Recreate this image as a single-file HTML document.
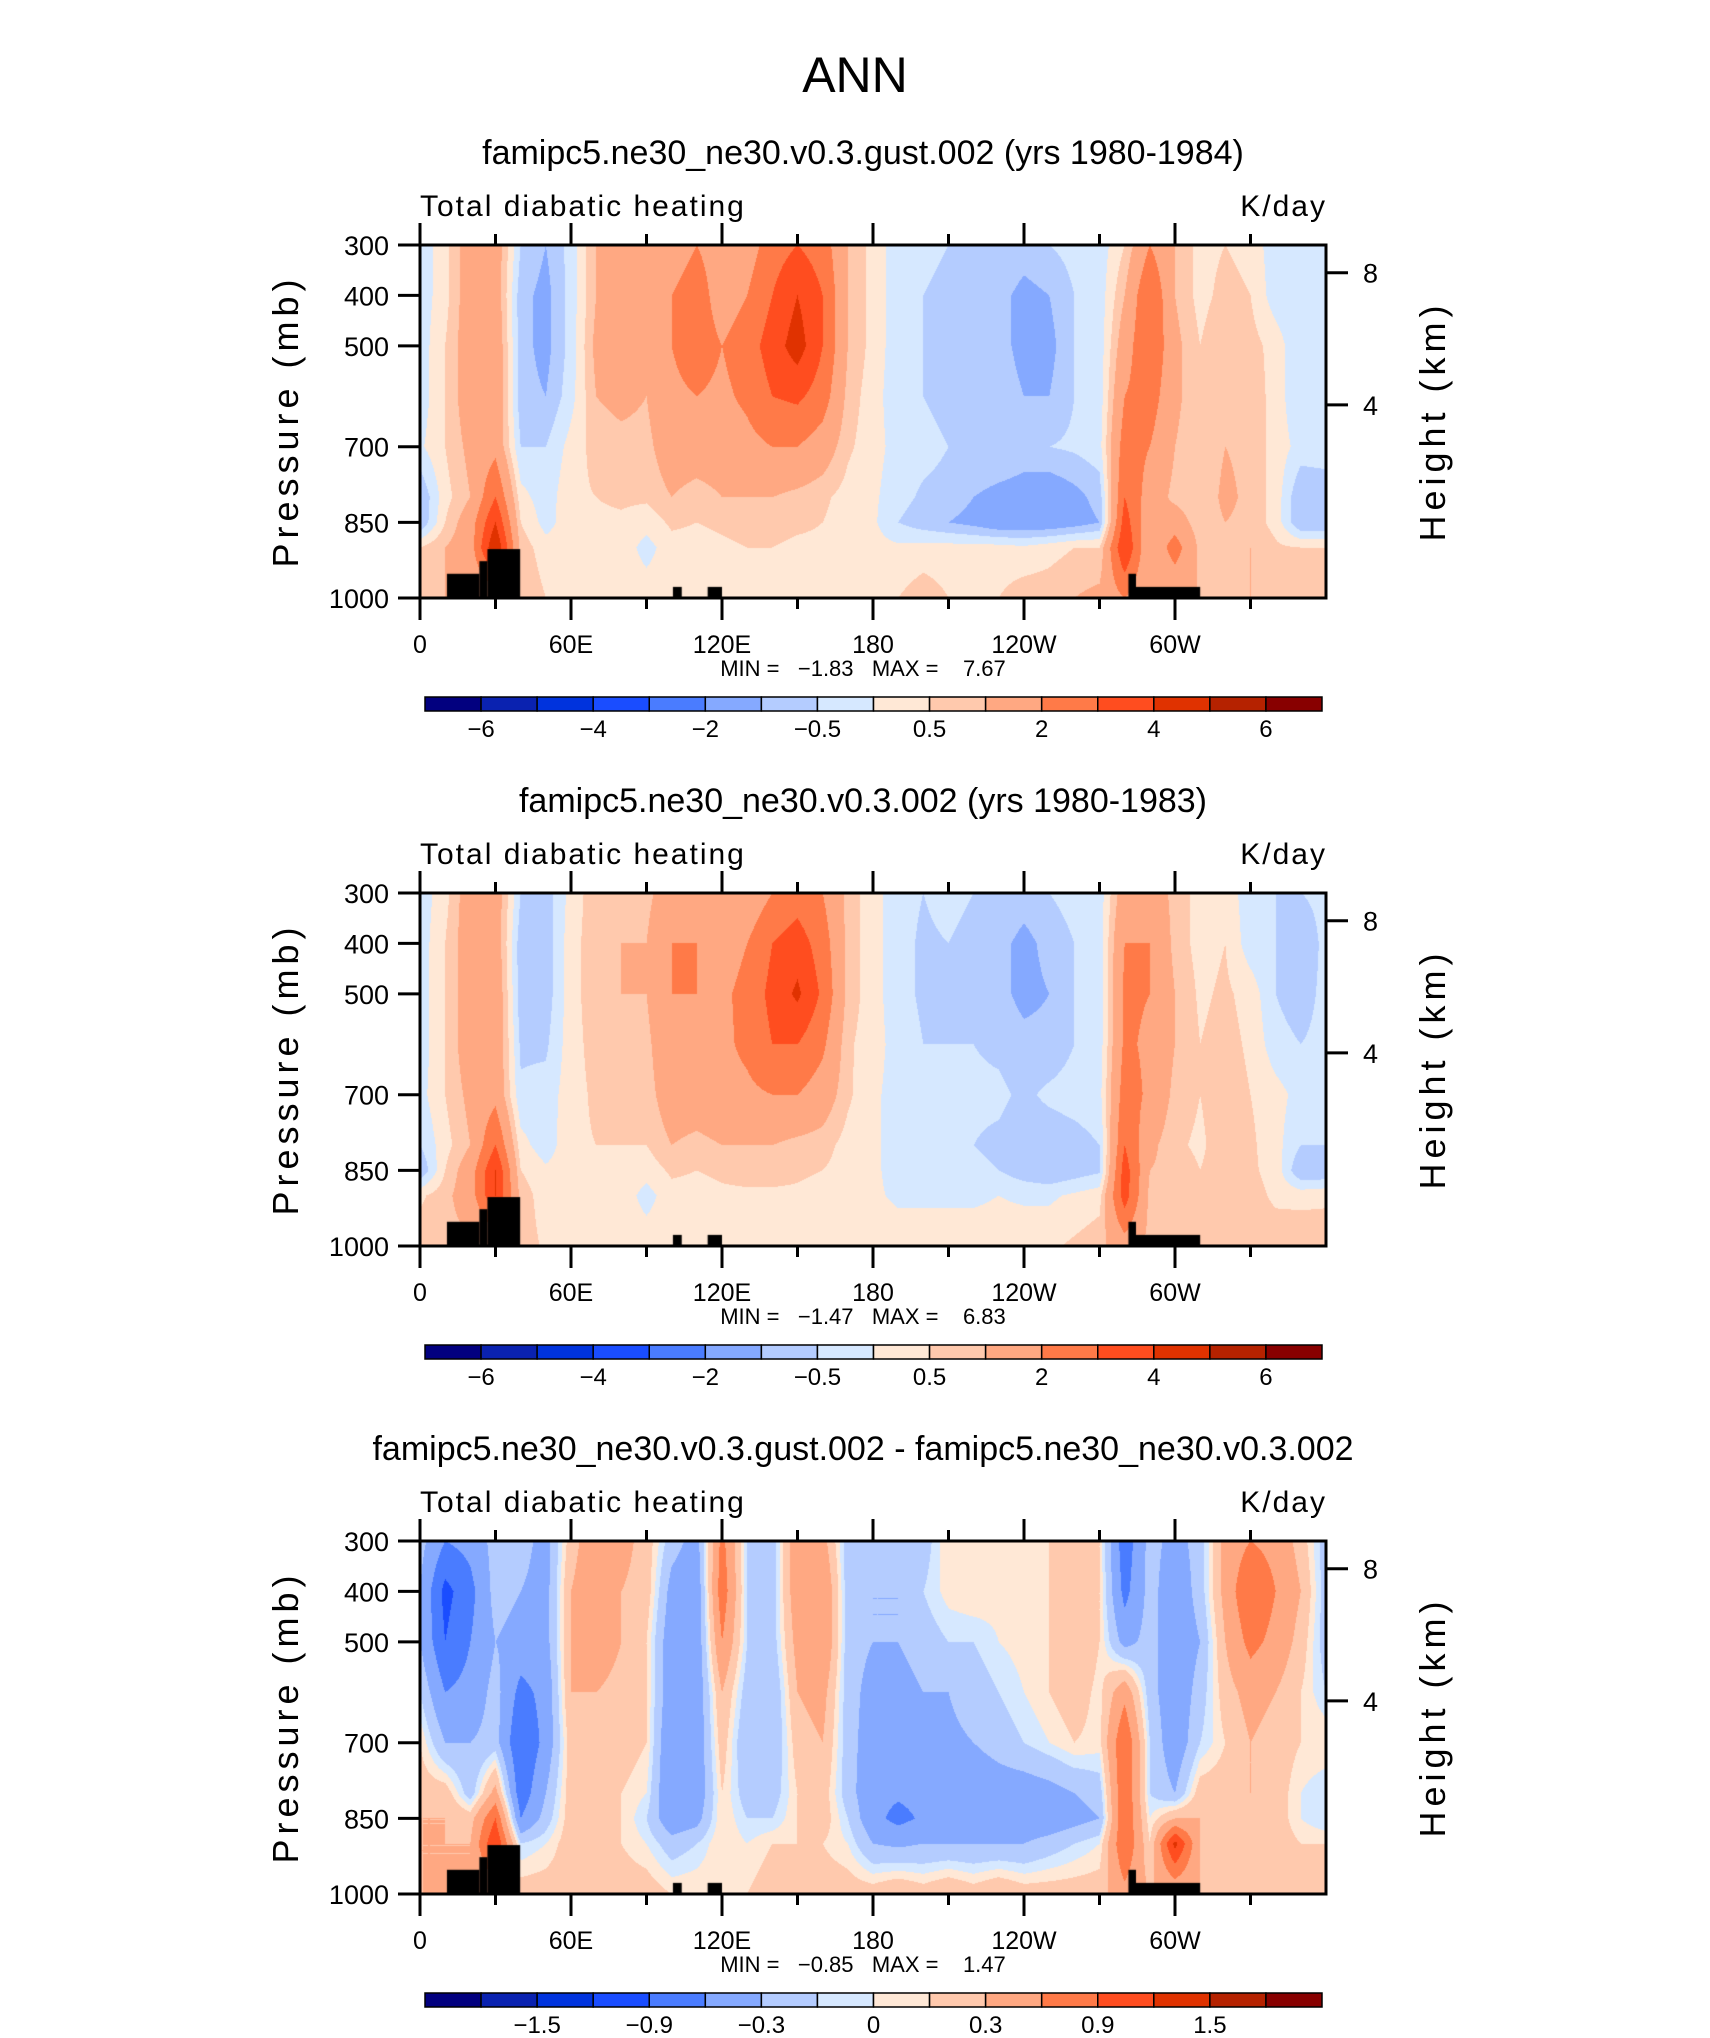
<!DOCTYPE html>
<html><head><meta charset="utf-8">
<style>
html,body{margin:0;padding:0;background:#fff;}
body{position:relative;width:1710px;height:2038px;overflow:hidden;font-family:"Liberation Sans",sans-serif;}
canvas{position:absolute;}
svg{position:absolute;left:0;top:0;}
</style></head>
<body>
<canvas id="c0" width="906" height="353" style="left:420px;top:245px"></canvas>
<canvas id="c1" width="906" height="353" style="left:420px;top:893px"></canvas>
<canvas id="c2" width="906" height="353" style="left:420px;top:1541px"></canvas>
<svg id="ov" width="1710" height="2038" xmlns="http://www.w3.org/2000/svg"></svg>
<script>
const lons = [0,10,20,30,40,50,60,70,80,90,100,110,120,130,140,150,160,170,180,190,200,210,220,230,240,250,260,270,280,290,300,310,320,330,340,350,360];
const levels = [300,400,500,600,700,800,850,900,1000];
const field1 = [
[-0.3,0.3,1.5,1.5,-0.5,-1,-0.3,1.0,1.0,1.0,1.5,2,1.5,1.5,2.5,3,2.5,1.0,0.3,-0.3,-0.3,-0.5,-0.7,-0.5,-0.7,-0.5,-0.3,-0.3,0.5,2,1,0.3,0.5,0.3,-0.3,-0.3,-0.3],
[-0.3,0.3,1.5,1.5,-0.8,-1.2,-0.3,1.0,1.5,1.2,2,2.5,1.5,2,3,4,3,1,0.3,-0.3,-0.5,-0.7,-0.8,-0.8,-1.2,-1,-0.5,-0.3,1,3,1,0.3,0.7,0.5,-0.3,-0.5,-0.3],
[-0.3,0.5,1.5,1.7,-0.8,-1.2,-0.3,1.2,1.5,1.2,2,2.5,2,2.5,3.5,4.5,3,1,0.3,-0.3,-0.5,-0.8,-0.8,-0.8,-1.2,-1.2,-0.5,-0.3,1.5,3,1.2,0.5,1,0.7,0.3,-0.5,-0.3],
[-0.3,0.5,1.5,1.7,-0.8,-1,-0.2,1.0,1.2,1,1.8,2,1.8,2.2,3,3.2,2.5,0.8,0.2,-0.3,-0.5,-0.7,-0.7,-0.7,-1,-1,-0.5,-0.3,2,2.5,1.2,0.5,1,0.8,0.3,-0.5,-0.3],
[-0.1,0.5,1.2,1.7,-0.5,-0.5,0.2,0.7,0.8,0.8,1.5,1.5,1.5,1.7,2,2,1.5,0.6,0.2,-0.2,-0.3,-0.5,-0.5,-0.5,-0.7,-0.5,-0.4,-0.2,2.5,2,1,0.5,1,0.8,0.3,-0.2,-0.1],
[-1,0.3,1,3,0.2,-0.3,0.4,0.5,0.6,0.6,1,0.7,1,1,1,0.8,0.6,0.3,0.1,-0.3,-0.6,-0.7,-1,-1.2,-1.3,-1.5,-1.2,-0.8,3,1.5,0.8,0.5,1.2,0.8,0.3,-1,-1],
[-1,0.5,1.5,4,0.5,-0.2,0.3,0.4,0.4,0.2,0.6,0.5,0.6,0.7,0.7,0.6,0.5,0.3,0.1,-0.5,-0.8,-1,-1.2,-1.5,-1.5,-1.5,-1.3,-1,3.5,1.2,1.5,0.6,1,0.8,0.3,-1,-1],
[0.5,1,1.5,5,0.8,0.2,0.3,0.4,0.3,-0.2,0.3,0.3,0.4,0.5,0.5,0.4,0.4,0.3,0.2,0.1,0.2,0.2,0.2,0.2,0.1,0.3,0.5,0.5,4,1,2.5,0.8,1,1,0.6,0.5,0.5],
[1,1,1,1,1,0.5,0.3,0.3,0.3,0.3,0.3,0.3,0.3,0.3,0.3,0.3,0.3,0.3,0.3,0.5,0.8,0.5,0.5,0.5,0.8,0.8,1,1.2,2,1,1,1,0.8,1,1,1,1]
];
const field2 = [
[-0.3,0.3,1.5,1.5,-0.5,-0.8,0.2,0.8,0.8,0.8,1.5,1.5,1.2,1.2,2,2.5,2,0.8,0.2,-0.3,-0.5,-0.3,-0.5,-0.5,-0.7,-0.5,-0.3,-0.3,1.5,1.5,0.8,0.3,0.3,-0.3,-0.5,-0.5,-0.3],
[-0.3,0.5,1.5,1.5,-0.8,-0.8,0.3,0.8,1,1,2,2,1.5,2,3,3.5,2.5,0.8,0.2,-0.3,-0.6,-0.5,-0.7,-0.8,-1.2,-0.8,-0.5,-0.3,2,2,0.8,0.3,0.5,-0.3,-0.5,-1,-0.3],
[-0.3,0.5,1.5,1.7,-0.8,-0.8,0.3,0.8,1,1,2,2,1.8,2.3,3.3,4.2,2.8,0.8,0.2,-0.3,-0.6,-0.6,-0.7,-0.8,-1.2,-1,-0.5,-0.3,2.2,2,1,0.4,0.6,0.3,-0.5,-0.8,-0.3],
[-0.3,0.5,1.5,1.7,-0.6,-0.6,0.3,0.7,0.8,0.8,1.8,1.8,1.8,2.2,3,3,2.2,0.6,0.2,-0.2,-0.5,-0.5,-0.5,-0.6,-0.8,-0.8,-0.5,-0.3,2.2,1.8,1,0.5,0.7,0.4,-0.3,-0.5,-0.3],
[-0.2,0.5,1.2,1.7,-0.4,-0.3,0.3,0.6,0.7,0.7,1.5,1.5,1.7,1.8,2,2,1.5,0.6,0.1,-0.2,-0.3,-0.4,-0.4,-0.4,-0.6,-0.4,-0.3,-0.2,2.5,1.8,0.8,0.5,0.8,0.5,0.2,-0.2,-0.2],
[-0.5,0.3,1,3,0.2,-0.3,0.4,0.5,0.5,0.5,1,0.8,1,1,1,0.8,0.7,0.3,0.1,-0.2,-0.3,-0.4,-0.5,-0.6,-0.8,-0.8,-0.7,-0.5,3,1.2,0.6,0.4,0.8,0.6,0.2,-0.5,-0.5],
[-1,0.5,1.5,4,0.5,0.1,0.3,0.4,0.4,0.2,0.6,0.5,0.6,0.7,0.7,0.6,0.5,0.3,0.1,-0.2,-0.3,-0.3,-0.4,-0.5,-0.8,-1,-0.8,-0.6,3.5,1,0.8,0.5,0.8,0.6,0.3,-1,-1],
[0.4,0.8,1.5,4,0.8,0.2,0.3,0.3,0.3,-0.2,0.3,0.3,0.4,0.4,0.4,0.4,0.3,0.3,0.1,-0.1,-0.1,-0.1,-0.1,0,-0.1,-0.1,0.1,0.3,3.5,0.8,0.8,0.6,0.7,0.7,0.4,0.3,0.4],
[0.8,0.8,0.8,1,0.8,0.4,0.3,0.3,0.3,0.3,0.3,0.3,0.3,0.3,0.3,0.3,0.3,0.3,0.3,0.3,0.3,0.3,0.3,0.3,0.4,0.4,0.6,0.8,1.5,0.8,0.8,0.8,0.7,0.8,0.8,1,0.8]
];
const field3 = [
[-0.2,-0.6,-0.5,-0.2,-0.2,-0.4,0.2,0.5,0.4,0.2,-0.2,-0.4,0.7,-0.1,-0.2,0.5,0.4,-0.2,-0.3,-0.2,-0.2,0.1,0.1,0.05,0.05,0.1,0.2,0.1,-0.8,-0.2,-0.4,-0.2,0.4,0.6,0.5,0.2,-0.2],
[-0.3,-1,-0.7,-0.2,-0.3,-0.4,0.3,0.5,0.3,0.2,-0.4,-0.5,0.8,-0.1,-0.2,0.5,0.6,-0.2,-0.3,-0.3,-0.1,0.05,0.1,0.05,0.05,0.1,0.3,0.1,-0.7,-0.2,-0.5,-0.2,0.4,0.9,0.6,0.3,-0.2],
[-0.3,-0.9,-0.6,-0.3,-0.4,-0.4,0.3,0.5,0.3,0.1,-0.5,-0.5,0.6,-0.1,-0.2,0.4,0.6,-0.2,-0.3,-0.3,-0.2,-0.1,-0.1,0,0.05,0.1,0.3,0.1,-0.4,-0.2,-0.5,-0.3,0.3,0.7,0.5,0.2,-0.2],
[-0.1,-0.6,-0.5,-0.2,-0.7,-0.5,0.3,0.3,0.2,0.1,-0.5,-0.5,0.3,-0.2,-0.3,0.3,0.4,-0.2,-0.4,-0.4,-0.3,-0.3,-0.2,-0.1,0,0.1,0.2,0.05,0.5,-0.2,-0.5,-0.2,0.2,0.4,0.3,0.1,-0.1],
[0.1,-0.3,-0.3,-0.2,-0.9,-0.5,0.2,0.3,0.2,0.1,-0.6,-0.5,0.2,-0.3,-0.3,0.2,0.3,-0.2,-0.45,-0.45,-0.4,-0.35,-0.3,-0.2,-0.1,0,0.1,0.05,0.9,-0.1,-0.5,-0.1,0.1,0.3,0.2,0.1,0.1],
[0.2,0.2,-0.2,0.4,-0.8,-0.3,0.2,0.2,0.1,0,-0.6,-0.5,0.1,-0.2,-0.2,0.1,0.2,-0.2,-0.5,-0.55,-0.5,-0.5,-0.5,-0.45,-0.45,-0.4,-0.3,-0.2,0.9,-0.1,-0.3,0.2,0.2,0.3,0.2,0,-0.1],
[0.3,0.3,0.2,0.9,-0.6,-0.2,0.2,0.2,0.1,-0.1,-0.5,-0.4,0.1,-0.1,-0.1,0.1,0.2,-0.1,-0.5,-0.7,-0.55,-0.5,-0.55,-0.55,-0.5,-0.5,-0.4,-0.3,0.9,0,0.3,0.3,0.2,0.2,0.2,0,-0.1],
[0.3,0.3,0.3,1.2,-0.1,0,0.2,0.2,0.1,0,-0.2,-0.1,0.1,0,0.1,0.1,0.1,0,-0.3,-0.35,-0.3,-0.3,-0.3,-0.3,-0.3,-0.2,-0.1,0,0.9,0.1,1.3,0.3,0.2,0.2,0.2,0.1,0.1],
[0.3,0.3,0.3,0.3,0.2,0.2,0.2,0.2,0.2,0.2,0.1,0.1,0.1,0.1,0.2,0.2,0.2,0.2,0.2,0.3,0.2,0.3,0.2,0.3,0.2,0.2,0.2,0.2,0.5,0.3,0.3,0.3,0.3,0.2,0.2,0.2,0.3]
];
const contourLevelsAbs = [-6,-5,-4,-3,-2,-1,-0.5,0,0.5,1,2,3,4,5,6];
const contourLevelsDiff = [-1.8,-1.5,-1.2,-0.9,-0.6,-0.3,-0.1,0,0.1,0.3,0.6,0.9,1.2,1.5,1.8];
const cbarLabelsAbs = ["-6","","-4","","-2","","-0.5","","0.5","","2","","4","","6"];
const cbarLabelsDiff = ["","-1.5","","-0.9","","-0.3","","0","","0.3","","0.9","","1.5",""];
const palette = ["#02007f","#0a22b0","#0033dd","#1a4dff","#4a7cff","#85a9ff","#b4ccff","#d6e8ff","#ffe8d6","#ffc9ad","#ffa882","#ff7a48","#ff4d1f","#e03200","#b52200","#880000"];
const topoLon0 = [10.7,23.6,26.8,100.5,114.3,281.5,284.5];
const topoLon1 = [23.6,26.8,39.8,104,120,284.5,310];
const topoP = [952,927,903,978,978,952,978];
const titles = ["famipc5.ne30_ne30.v0.3.gust.002 (yrs 1980-1984)","famipc5.ne30_ne30.v0.3.002 (yrs 1980-1983)","famipc5.ne30_ne30.v0.3.gust.002 - famipc5.ne30_ne30.v0.3.002"];
const minVals = ["-1.83","-1.47","-0.85"];
const maxVals = ["7.67","6.83","1.47"];
const xTickLons = [0,60,120,180,240,300];
const xTickLabels = ["0","60E","120E","180","120W","60W"];
const pTicks = [300,400,500,700,850,1000];
const hTicks = [8,4];
const hTickP = [355,617];

const PL=420, PW=906, PH=353, TOPS=[245,893,1541];
const xOf = lon => PL + lon/360*PW;
const yOf = (p,T) => T + (p-300)/700*PH;

function hex(c){return [parseInt(c.slice(1,3),16),parseInt(c.slice(3,5),16),parseInt(c.slice(5,7),16)];}
const rgb = palette.map(hex);
function interp(f,lon,p){
  let i=Math.min(Math.floor(lon/10),lons.length-2); let tx=(lon-lons[i])/10;
  let j=0; while(j<levels.length-2 && p>levels[j+1]) j++;
  let ty=(p-levels[j])/(levels[j+1]-levels[j]);
  const a=f[j][i],b=f[j][i+1],c=f[j+1][i],d=f[j+1][i+1];
  return (a*(1-tx)+b*tx)*(1-ty)+(c*(1-tx)+d*tx)*ty;
}
function drawField(id,f,lv){
  const cv=document.getElementById(id),ctx=cv.getContext('2d');
  const img=ctx.createImageData(PW,PH);
  for(let y=0;y<PH;y++){const p=300+(y+0.5)/PH*700;
    for(let x=0;x<PW;x++){const lon=(x+0.5)/PW*360;
      const v=interp(f,lon,p); let k=0; while(k<lv.length && v>=lv[k]) k++;
      const c=rgb[k]; const o=(y*PW+x)*4; img.data[o]=c[0];img.data[o+1]=c[1];img.data[o+2]=c[2];img.data[o+3]=255;}}
  ctx.putImageData(img,0,0);
  ctx.fillStyle='#000';
  for(let t=0;t<topoP.length;t++){
    const x0=topoLon0[t]/360*PW, x1=topoLon1[t]/360*PW, y0=(topoP[t]-300)/700*PH;
    ctx.fillRect(x0,y0,x1-x0,PH-y0);
  }
}
drawField('c0',field1,contourLevelsAbs);
drawField('c1',field2,contourLevelsAbs);
drawField('c2',field3,contourLevelsDiff);

const NS="http://www.w3.org/2000/svg", ov=document.getElementById('ov');
function mk(tag,attrs,parent){const e=document.createElementNS(NS,tag);for(const k in attrs)e.setAttribute(k,attrs[k]);(parent||ov).appendChild(e);return e;}
function txt(s,x,y,size,anchor,parent,extra){const e=mk('text',Object.assign({x:x,y:y,'font-size':size,'text-anchor':anchor||'middle','font-family':'Liberation Sans, sans-serif',fill:'#000'},extra||{}),parent);e.textContent=s;return e;}

let t0=txt("ANN",855,92,50,'middle');



for(let n=0;n<3;n++){
  const T=TOPS[n], B=T+PH, lv = n<2?cbarLabelsAbs:cbarLabelsDiff;
  const g=mk('g',{});
  
  
  let e=txt(titles[n],863,T-81,34,'middle',g);
  
  
  e=txt("Total diabatic heating",420,T-29,30,'start',g,{'letter-spacing':'2'});
  
  
  e=txt("K/day",1327,T-29,30,'end',g,{'letter-spacing':'2'});
  
  
  e=mk('rect',{x:PL,y:T,width:PW,height:PH,fill:'none',stroke:'#000','stroke-width':3},g);
  
  
  for(let lon=0;lon<=330;lon+=30){
    const x=xOf(lon), L=(lon%60===0)?22:11;
    mk('line',{x1:x,y1:B,x2:x,y2:B+L,stroke:'#000','stroke-width':3},g);
    mk('line',{x1:x,y1:T,x2:x,y2:T-L,stroke:'#000','stroke-width':3},g);
  }
  for(let i=0;i<xTickLons.length;i++){
    e=txt(xTickLabels[i],xOf(xTickLons[i]),B+55,25,'middle',g);
    
    
  }
  for(let i=0;i<pTicks.length;i++){
    const y=yOf(pTicks[i],T);
    mk('line',{x1:PL-22,y1:y,x2:PL,y2:y,stroke:'#000','stroke-width':3},g);
    e=txt(String(pTicks[i]),389,y+10,27,'end',g);
    
    
  }
  for(let i=0;i<hTicks.length;i++){
    const y=yOf(hTickP[i],T);
    mk('line',{x1:PL+PW,y1:y,x2:PL+PW+22,y2:y,stroke:'#000','stroke-width':3},g);
    e=txt(String(hTicks[i]),1363,y+10,27,'start',g);
    
    
  }
  e=txt("Pressure (mb)",0,0,36,'middle',g,{transform:`translate(298,${T+176}) rotate(-90)`,'letter-spacing':'5'});
  
  
  e=txt("Height (km)",0,0,36,'middle',g,{transform:`translate(1445,${T+176}) rotate(-90)`,'letter-spacing':'5'});
  
  
  e=txt("MIN =   "+minVals[n].replace('-','\u2212')+"   MAX =    "+maxVals[n],863,T+431,22,'middle',g,{'style':'white-space:pre'});
  
  
  const cx0=425, cw=(1322-425)/16, cy=T+452;
  for(let k=0;k<16;k++){
    e=mk('rect',{x:cx0+k*cw,y:cy,width:cw,height:14,fill:palette[k],stroke:'#000','stroke-width':1.5},g);
    
    
  }
  for(let k=0;k<15;k++){
    if(!lv[k]) continue;
    e=txt(lv[k].replace('-','\u2212'),cx0+(k+1)*cw,T+492,24,'middle',g);
    
    
  }
}
</script>
</body></html>
